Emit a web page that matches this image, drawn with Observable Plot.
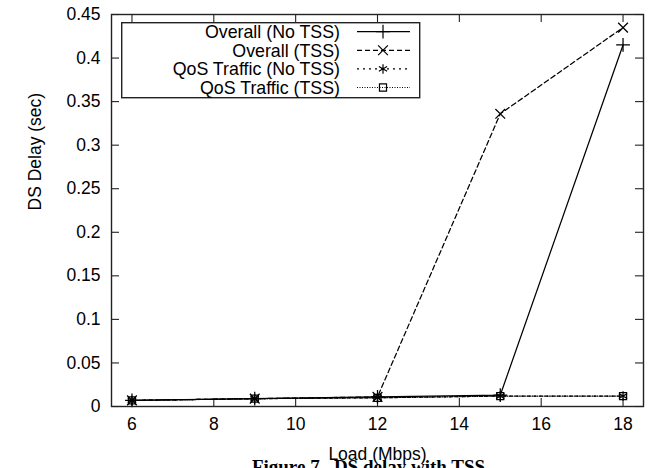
<!DOCTYPE html>
<html>
<head>
<meta charset="utf-8">
<script src="https://cdn.jsdelivr.net/npm/d3@7"></script>
<script src="https://cdn.jsdelivr.net/npm/@observablehq/plot@0.6"></script>
<style>
  body { margin: 0; background: #fff; }
  #chart { position: relative; width: 650px; height: 468px; overflow: hidden; }
  #legend { position: absolute; left: 121px; top: 22px; }
</style>
</head>
<body>
<div id="chart"></div>
<script>
// Mean DS delay (seconds) versus offered load (Mbps)
const loads = [6, 9, 12, 15, 18];
const overallNoTss = [0.007, 0.009, 0.011, 0.013, 0.415];
const overallTss   = [0.007, 0.009, 0.011, 0.336, 0.435];
const qosNoTss     = [0.007, 0.009, 0.010, 0.012, 0.012];
const qosTss       = [0.007, 0.009, 0.010, 0.012, 0.012];
const seriesNames = ["Overall (No TSS)", "Overall (TSS)", "QoS Traffic (No TSS)", "QoS Traffic (TSS)"];
const xTicks = [6, 8, 10, 12, 14, 16, 18];
const yTicks = [0, 0.05, 0.1, 0.15, 0.2, 0.25, 0.3, 0.35, 0.4, 0.45];
const xLabel = "Load (Mbps)";
const yLabel = "DS Delay (sec)";
const caption = "Figure 7.  DS delay with TSS";

// line style and point symbol for each series, gnuplot-like
const seriesStyle = [
  {dash: null,    symbol: "plus"},
  {dash: "5,3",   symbol: "times"},
  {dash: "2,4",   symbol: "asterisk"},
  {dash: "1,1.5", symbol: "square2"}
];
const seriesValues = [overallNoTss, overallTss, qosNoTss, qosTss];

const W = 650, H = 468;
const mL = 111, mR = 7, mT = 14, mB = 62;
const plotW = W - mL - mR, plotH = H - mT - mB;
const tick = 8;

const marks = [];
seriesValues.forEach((vals, i) => {
  const pts = loads.map((x, j) => ({x, y: vals[j]}));
  marks.push(Plot.line(pts, {
    x: "x", y: "y", stroke: "black", strokeWidth: 1.25,
    strokeDasharray: seriesStyle[i].dash
  }));
  marks.push(Plot.dot(pts, {
    x: "x", y: "y", symbol: seriesStyle[i].symbol, r: 4.5,
    stroke: "black", fill: "none", strokeWidth: 1.25
  }));
});

const chart = Plot.plot({
  width: W, height: H,
  marginLeft: mL, marginRight: mR, marginTop: mT, marginBottom: mB,
  style: {fontFamily: "'Liberation Sans', Arial, sans-serif", fontSize: "17px", color: "black", background: "white"},
  x: {domain: [5.5, 18.5]},
  y: {domain: [0, 0.45]},
  marks: [
    // inward ticks on all four sides
    Plot.ruleX(xTicks, {x: d => d, insetTop: plotH - tick, stroke: "#222", strokeWidth: 1.1}),
    Plot.ruleX(xTicks, {x: d => d, insetBottom: plotH - tick, stroke: "#222", strokeWidth: 1.1}),
    Plot.ruleY(yTicks, {y: d => d, insetRight: plotW - tick, stroke: "#222", strokeWidth: 1.1}),
    Plot.ruleY(yTicks, {y: d => d, insetLeft: plotW - tick, stroke: "#222", strokeWidth: 1.1}),
    Plot.axisX(xTicks, {anchor: "bottom", tickSize: 0, tickPadding: 11, label: null, fontSize: 17.5,
      tickFormat: d => String(d)}),
    Plot.axisY(yTicks, {anchor: "left", tickSize: 0, tickPadding: 11, label: null, fontSize: 17.5,
      tickFormat: d => String(d)}),
    ...marks,
    Plot.frame({stroke: "#222", strokeWidth: 1.4}),
    Plot.text([xLabel], {frameAnchor: "bottom", dy: 53, fontSize: 17.5}),
    Plot.text([yLabel], {frameAnchor: "left", dx: -76, rotate: -90, fontSize: 17.5}),
    Plot.text([caption], {frameAnchor: "bottom", dx: -9, dy: 66, fontSize: 19, fontWeight: "bold",
      fontFamily: "'Liberation Serif', 'Times New Roman', serif"})
  ]
});
document.getElementById("chart").appendChild(chart);

// Key box drawn over the upper-left corner of the plot area
const lw = 298, lh = 75, rowY0 = 9.7, rowStep = 18.6;
const textRight = 219, sampleX0 = 236, sampleX1 = 289, symX = 262;
const legend = d3.select("#chart").append("svg")
  .attr("id", "legend").attr("width", lw + 2).attr("height", lh + 2)
  .style("font-family", "'Liberation Sans', Arial, sans-serif").style("font-size", "17.8px");
legend.append("rect").attr("x", 0.7).attr("y", 0.7).attr("width", lw).attr("height", lh)
  .attr("fill", "white").attr("stroke", "#222").attr("stroke-width", 1.4);
seriesNames.forEach((name, i) => {
  const y = rowY0 + i * rowStep;
  legend.append("text").attr("x", textRight).attr("y", y).attr("text-anchor", "end")
    .attr("dy", "0.35em").attr("fill", "black").text(name);
  legend.append("line").attr("x1", sampleX0).attr("x2", sampleX1).attr("y1", y).attr("y2", y)
    .attr("stroke", "black").attr("stroke-width", 1.2)
    .attr("stroke-dasharray", seriesStyle[i].dash);
  const symType = {plus: d3.symbolPlus, times: d3.symbolTimes, asterisk: d3.symbolAsterisk, square2: d3.symbolSquare2}[seriesStyle[i].symbol];
  legend.append("path").attr("transform", `translate(${symX},${y})`)
    .attr("d", d3.symbol(symType, Math.PI * 4.5 * 4.5)())
    .attr("fill", "none").attr("stroke", "black").attr("stroke-width", 1.2);
});
</script>
</body>
</html>
